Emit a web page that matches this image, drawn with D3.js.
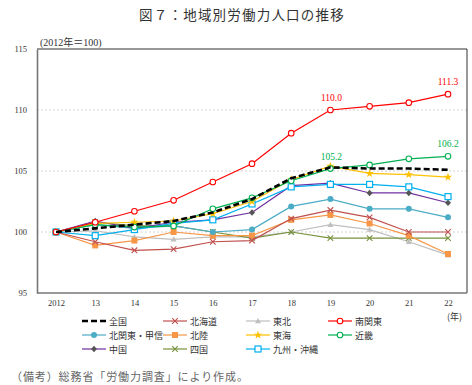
<!DOCTYPE html>
<html><head><meta charset="utf-8">
<script src="https://cdn.jsdelivr.net/npm/d3@7"></script>
<style>
html,body{margin:0;padding:0;background:#fff;}
svg{display:block;}
</style></head>
<body><svg id="c" width="472" height="385"></svg>
<script>
const years = ["2012","13","14","15","16","17","18","19","20","21","22"];
const yTicks = [95,100,105,110,115];
const nationwide   = [100,100.3,100.6,100.9,101.6,102.7,104.4,105.3,105.2,105.2,105.1];
const hokkaido     = [100,99.2,98.5,98.6,99.2,99.3,101.1,101.8,101.2,100.0,100.0];
const tohoku       = [100,100.1,99.6,99.4,99.6,99.6,100.0,100.6,100.2,99.2,98.1];
const minamiKanto  = [100,100.8,101.7,102.6,104.1,105.6,108.1,110.0,110.3,110.6,111.3];
const kitaKanto    = [100,100.6,100.3,100.5,100.0,100.2,102.1,102.7,101.9,101.9,101.2];
const hokuriku     = [100,98.9,99.3,100.0,99.7,99.7,101.0,101.4,100.7,99.7,98.2];
const tokai        = [100,100.7,100.8,100.9,101.5,102.5,104.3,105.4,104.8,104.7,104.5];
const kinki        = [100,100.6,100.4,100.5,101.9,102.8,104.2,105.2,105.5,106.0,106.2];
const chugoku      = [100,100.9,100.3,100.8,101.0,101.6,103.8,104.0,103.2,103.2,102.4];
const shikoku      = [100,100.8,100.5,100.5,100.0,99.5,100.0,99.5,99.5,99.5,99.5];
const kyushu       = [100,99.7,100.2,100.7,101.0,102.3,103.7,103.9,103.9,103.7,102.9];

const seriesNames = ["全国","北海道","東北","南関東","北関東・甲信","北陸","東海","近畿","中国","四国","九州・沖縄"];
const seriesData = [nationwide,hokkaido,tohoku,minamiKanto,kitaKanto,hokuriku,tokai,kinki,chugoku,shikoku,kyushu];
const seriesColors = ["#000000","#c0504d","#bfbfbf","#ff0000","#4bacc6","#f79646","#ffc000","#00b050","#7030a0","#77933c","#00b0f0"];
const seriesMarkers = ["none","x","tri","ocircle","circle","square","star","ocircle","diamond","x","osquare"];
const dataLabels = [{s:"南関東", i:7, t:"110.0"},{s:"南関東", i:10, t:"111.3"},{s:"近畿", i:7, t:"105.2"},{s:"近畿", i:10, t:"106.2"}];

const svg = d3.select("#c");
const pL=37, pR=467, pT=49, pB=293;
const x = d3.scalePoint().domain(years).range([56,448]);
const y = d3.scaleLinear().domain([95,115]).range([pB, pT]);

// title
svg.append("text").attr("x",242).attr("y",20).attr("text-anchor","middle")
  .attr("font-family","'Noto Sans CJK JP'").attr("font-size",13.5).attr("letter-spacing",1.2)
  .attr("fill","#333").text("図７：地域別労働力人口の推移");
svg.append("text").attr("x",40).attr("y",46).attr("font-family","'Liberation Serif','Noto Sans CJK JP'")
  .attr("font-size",10).attr("fill","#333").text("(2012年＝100)");

// gridlines
svg.append("g").selectAll("line").data([100,105,110]).join("line")
  .attr("x1",pL).attr("x2",pR).attr("y1",d=>y(d)).attr("y2",d=>y(d))
  .attr("stroke","#c8c8c8").attr("stroke-width",0.8).attr("stroke-dasharray","2,2");

// frame
svg.append("line").attr("x1",pL).attr("x2",pR).attr("y1",pT).attr("y2",pT).attr("stroke","#333").attr("stroke-width",1);
svg.append("line").attr("x1",pR).attr("x2",pR).attr("y1",pT).attr("y2",pB).attr("stroke","#333").attr("stroke-width",1);

// axes
const ya = svg.append("g").attr("transform",`translate(${pL},0)`)
  .call(d3.axisLeft(y).tickValues(yTicks).tickSize(0).tickPadding(10));
ya.select(".domain").attr("stroke","#777").attr("stroke-width",1.6);
ya.selectAll("text").attr("font-family","'Liberation Serif'").attr("font-size",8.5).attr("fill","#333");
const xa = svg.append("g").attr("transform",`translate(0,${pB})`)
  .call(d3.axisBottom(x).tickSize(0).tickPadding(7));
xa.select(".domain").attr("d",`M${pL},0H${pR}`).attr("stroke","#777").attr("stroke-width",1.6);
xa.selectAll("text").attr("font-family","'Liberation Serif'").attr("font-size",8.5).attr("fill","#333");

function marker(g, type, color, cx, cy){
  const s=2.8;
  if(type==="none") return;
  if(type==="x"){
    g.append("path").attr("d",`M${cx-s},${cy-s}L${cx+s},${cy+s}M${cx-s},${cy+s}L${cx+s},${cy-s}`)
      .attr("stroke",color).attr("stroke-width",1.1).attr("fill","none");
  } else if(type==="tri"){
    g.append("path").attr("d",`M${cx},${cy-3}L${cx+3},${cy+2.2}L${cx-3},${cy+2.2}Z`).attr("fill",color);
  } else if(type==="ocircle"){
    g.append("circle").attr("cx",cx).attr("cy",cy).attr("r",2.8).attr("fill","#fff").attr("stroke",color).attr("stroke-width",1.1);
  } else if(type==="circle"){
    g.append("circle").attr("cx",cx).attr("cy",cy).attr("r",3).attr("fill",color);
  } else if(type==="square"){
    g.append("rect").attr("x",cx-3).attr("y",cy-3).attr("width",6).attr("height",6).attr("fill",color);
  } else if(type==="osquare"){
    g.append("rect").attr("x",cx-3).attr("y",cy-3).attr("width",6).attr("height",6).attr("fill","#fff").attr("stroke",color).attr("stroke-width",1.2);
  } else if(type==="star"){
    g.append("path").attr("d",d3.symbol().type(d3.symbolStar).size(22)()).attr("transform",`translate(${cx},${cy})`).attr("fill",color);
  } else if(type==="diamond"){
    g.append("path").attr("d",`M${cx},${cy-3.2}L${cx+3},${cy}L${cx},${cy+3.2}L${cx-3},${cy}Z`).attr("fill","#555");
  }
}

const line = d3.line().x((d,i)=>x(years[i])).y(d=>y(d));
const order = [2,9,5,1,4,8,10,6,7,3,0];
order.forEach(k=>{
  const g = svg.append("g");
  g.append("path").datum(seriesData[k]).attr("d",line).attr("fill","none")
    .attr("stroke",seriesColors[k]).attr("stroke-width",k===0?2.6:1.2)
    .attr("stroke-dasharray",k===0?"6,3":null);
  seriesData[k].forEach((v,i)=>marker(g,seriesMarkers[k],seriesColors[k],x(years[i]),y(v)));
});

// data labels
dataLabels.forEach(d=>{
  const k = seriesNames.indexOf(d.s);
  svg.append("text").attr("x",x(years[d.i])+(d.i===7?1:0)).attr("y",y(seriesData[k][d.i])-9)
    .attr("text-anchor","middle").attr("font-family","'Liberation Serif'").attr("font-size",9.5)
    .attr("fill",seriesColors[k]).text(d.t);
});

// legend
const colX=[82,163,246,328], rowY=[321,335,349];
seriesNames.forEach((nm,k)=>{
  const cx=colX[k%4], cy=rowY[Math.floor(k/4)];
  const g=svg.append("g");
  g.append("line").attr("x1",cx).attr("x2",cx+24).attr("y1",cy).attr("y2",cy)
    .attr("stroke",seriesColors[k]).attr("stroke-width",k===0?2.6:1.2).attr("stroke-dasharray",k===0?"6,3":null);
  marker(g,seriesMarkers[k],seriesColors[k],cx+12,cy);
  g.append("text").attr("x",cx+27).attr("y",cy+3.5).attr("font-family","'Noto Sans CJK JP'")
    .attr("font-size",9).attr("fill","#333").text(nm);
});
svg.append("text").attr("x",447).attr("y",320).attr("font-family","'Noto Sans CJK JP'").attr("font-size",9).attr("fill","#333").text("(年)");
svg.append("text").attr("x",11).attr("y",381).attr("font-family","'Noto Sans CJK JP'").attr("font-size",11).attr("letter-spacing",0.9).attr("fill","#666").text("（備考）総務省「労働力調査」により作成。");
</script></body></html>
